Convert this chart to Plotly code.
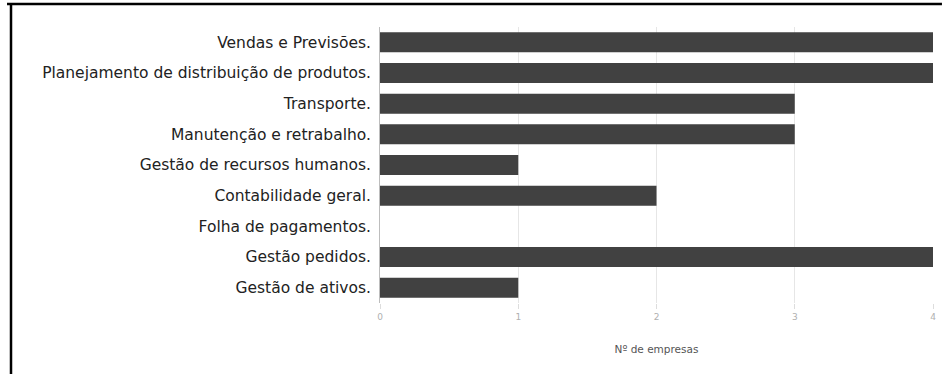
import plotly.graph_objects as go

categories = [
    "Vendas e Previsões.",
    "Planejamento de distribuição de produtos.",
    "Transporte.",
    "Manutenção e retrabalho.",
    "Gestão de recursos humanos.",
    "Contabilidade geral.",
    "Folha de pagamentos.",
    "Gestão pedidos.",
    "Gestão de ativos.",
]
values = [4, 4, 3, 3, 1, 2, 0, 4, 1]
x_ticks = [0, 1, 2, 3, 4]

W, H = 945, 374
ML, MR, MT, MB = 380, 9, 27, 71
pw = W - ML - MR
ph = H - MT - MB

def px_x(px):
    return (px - ML) / pw

def px_y(py):
    return (H - MB - py) / ph

fig = go.Figure(go.Bar(
    y=categories,
    x=values,
    orientation="h",
    marker=dict(color="#414141", line=dict(width=0)),
    width=0.65,
))

fig.update_layout(
    width=W, height=H,
    margin=dict(l=ML, r=MR, t=MT, b=MB),
    paper_bgcolor="white",
    plot_bgcolor="white",
    font=dict(family="DejaVu Sans", color="#222222"),
    showlegend=False,
    xaxis=dict(
        range=[0, 4],
        tickvals=x_ticks,
        showgrid=True,
        gridcolor="#e6e6e6",
        gridwidth=1,
        zeroline=False,
        showline=False,
        ticks="outside",
        ticklen=5,
        tickcolor="#dddddd",
        tickfont=dict(size=9, color="#b0b0b0"),
        title=dict(text="Nº de empresas", font=dict(size=10.5, color="#555555"), standoff=24),
    ),
    yaxis=dict(
        categoryorder="array",
        categoryarray=categories[::-1],
        autorange=True,
        tickfont=dict(size=15.5, color="#222222"),
        showgrid=False,
        ticks="",
        ticksuffix=" ",
        showline=True,
        linecolor="#bdbdbd",
        linewidth=1,
    ),
    shapes=[
        dict(type="line", xref="paper", yref="paper",
             x0=px_x(5), x1=px_x(945), y0=px_y(4), y1=px_y(4),
             line=dict(color="black", width=2.5)),
        dict(type="line", xref="paper", yref="paper",
             x0=px_x(9), x1=px_x(9), y0=px_y(3), y1=px_y(374),
             line=dict(color="black", width=2.5)),
    ],
)

fig.write_html(
    "out.html",
    config={"displayModeBar": False},
    post_script="document.body.style.margin='0';document.body.style.overflow='hidden';document.documentElement.style.overflow='hidden';",
)
